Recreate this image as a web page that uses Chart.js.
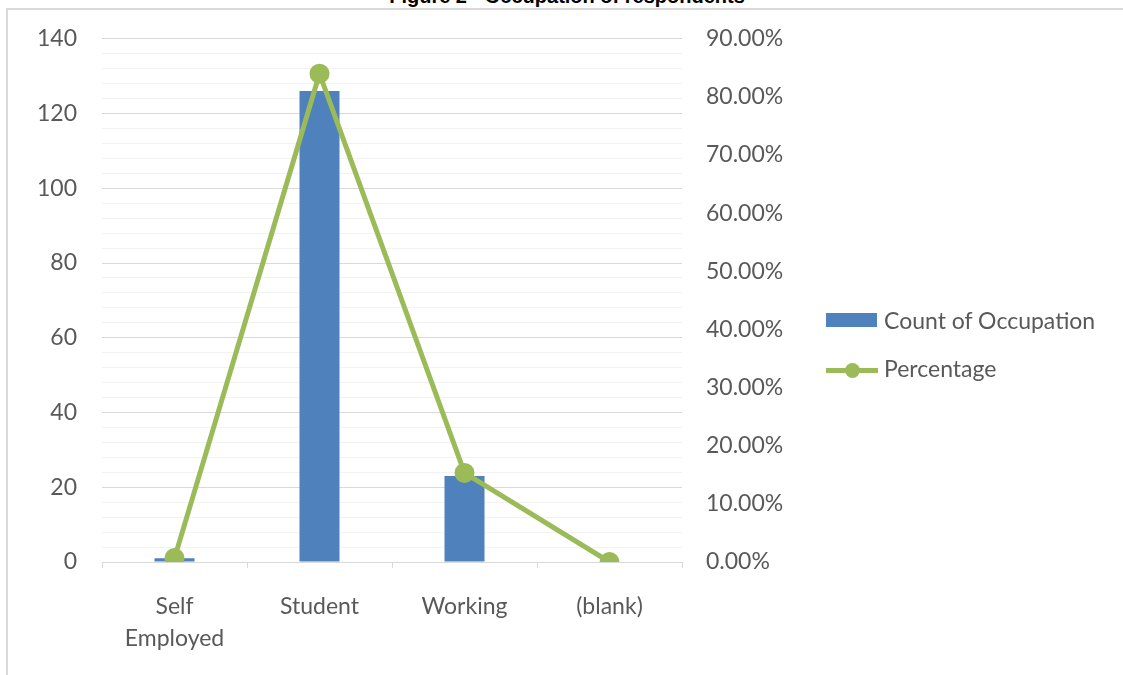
<!DOCTYPE html>
<html>
<head>
<meta charset="utf-8">
<script src="https://cdn.jsdelivr.net/npm/chart.js@4"></script>
<style>
  html, body { margin: 0; padding: 0; background: #fff; overflow: hidden; }
  #wrap { position: relative; width: 1123px; height: 675px; }
  #frame { position: absolute; left: 6px; top: 8px; width: 1200px; height: 800px;
           border-left: 2px solid #d9d9d9; border-top: 2px solid #d9d9d9; }
  #title { position: absolute; left: 0; width: 1134px; top: -16px; text-align: center;
           font: bold 20px "Liberation Sans", Arial, sans-serif; color: #000; line-height: 24px; }
  #chart { position: absolute; left: 0; top: 0; }
  .legend { position: absolute; left: 826px; font: 23px Lato, sans-serif; color: #595959; }
  .legend div { position: relative; height: 48px; padding-left: 58px; line-height: 22px; white-space: nowrap; }
  .sw-bar { position: absolute; left: 0; top: 0; width: 51px; height: 14px; background: #4F81BD; }
  .sw-line { position: absolute; left: 0; top: 5px; width: 52px; height: 5px; background: #9BBB59; }
  .sw-dot { position: absolute; left: 19px; top: 0; width: 15px; height: 15px; border-radius: 50%; background: #9BBB59; }
</style>
</head>
<body>
<div id="wrap">
  <div id="frame"></div>
  <div id="title">Figure 2 - Occupation of respondents</div>
  <canvas id="chart" width="1123" height="675"></canvas>
  <div class="legend" style="top: 309px;">
    <div><span class="sw-bar" style="top: 4px;"></span>Count of Occupation</div>
    <div><span class="sw-line" style="top: 11px;"></span><span class="sw-dot" style="top: 6px;"></span>Percentage</div>
  </div>
</div>
<script>
const categories = [['Self', 'Employed'], 'Student', 'Working', '(blank)'];
const counts = [1, 126, 23, 0];
const percentages = [0.0067, 0.84, 0.1533, 0];

const countTicks = { min: 0, max: 140, step: 4, major: 20 };
const pctTicks = { min: 0, max: 0.9, step: 0.1 };

const tickFont = { family: 'Lato', size: 23 };
const catFont = { family: 'Lato', size: 23, lineHeight: 1.4 };
const textColor = '#595959';

new Chart(document.getElementById('chart'), {
  type: 'bar',
  data: {
    labels: categories,
    datasets: [
      {
        type: 'line',
        label: 'Percentage',
        data: percentages,
        yAxisID: 'y1',
        borderColor: '#9BBB59',
        backgroundColor: '#9BBB59',
        borderWidth: 5,
        pointRadius: 9,
        pointBorderWidth: 2,
        pointBackgroundColor: '#9BBB59',
        tension: 0,
        order: 0
      },
      {
        label: 'Count of Occupation',
        data: counts,
        yAxisID: 'y',
        backgroundColor: '#4F81BD',
        categoryPercentage: 1,
        barPercentage: 0.276,
        order: 1
      }
    ]
  },
  options: {
    responsive: false,
    animation: false,
    layout: { padding: { top: 38, left: 0, right: 0, bottom: 0 } },
    plugins: { legend: { display: false }, tooltip: { enabled: false } },
    scales: {
      x: {
        grid: { drawOnChartArea: false, drawTicks: true, tickLength: 6, color: '#d9d9d9', lineWidth: 1 },
        border: { display: true, color: '#d9d9d9', width: 1 },
        ticks: { color: textColor, font: catFont, padding: 22, maxRotation: 0, autoSkip: false },
        afterFit: s => { s.height = 113; }
      },
      y: {
        position: 'left',
        min: countTicks.min,
        max: countTicks.max,
        border: { display: false },
        grid: {
          drawTicks: false,
          color: c => (c.tick.value % countTicks.major === 0 ? '#d9d9d9' : '#f2f2f2'),
          lineWidth: 1
        },
        ticks: {
          stepSize: countTicks.step,
          autoSkip: false,
          padding: 25,
          color: textColor,
          font: tickFont,
          callback: v => (v % countTicks.major === 0 ? String(v) : '')
        },
        afterFit: s => { s.width = 102; }
      },
      y1: {
        position: 'right',
        min: pctTicks.min,
        max: pctTicks.max,
        border: { display: false },
        grid: { drawOnChartArea: false, drawTicks: false },
        ticks: {
          stepSize: pctTicks.step,
          padding: 24,
          color: textColor,
          font: tickFont,
          callback: v => (v * 100).toFixed(2) + '%'
        },
        afterFit: s => { s.width = 441; }
      }
    }
  }
});
</script>
</body>
</html>
